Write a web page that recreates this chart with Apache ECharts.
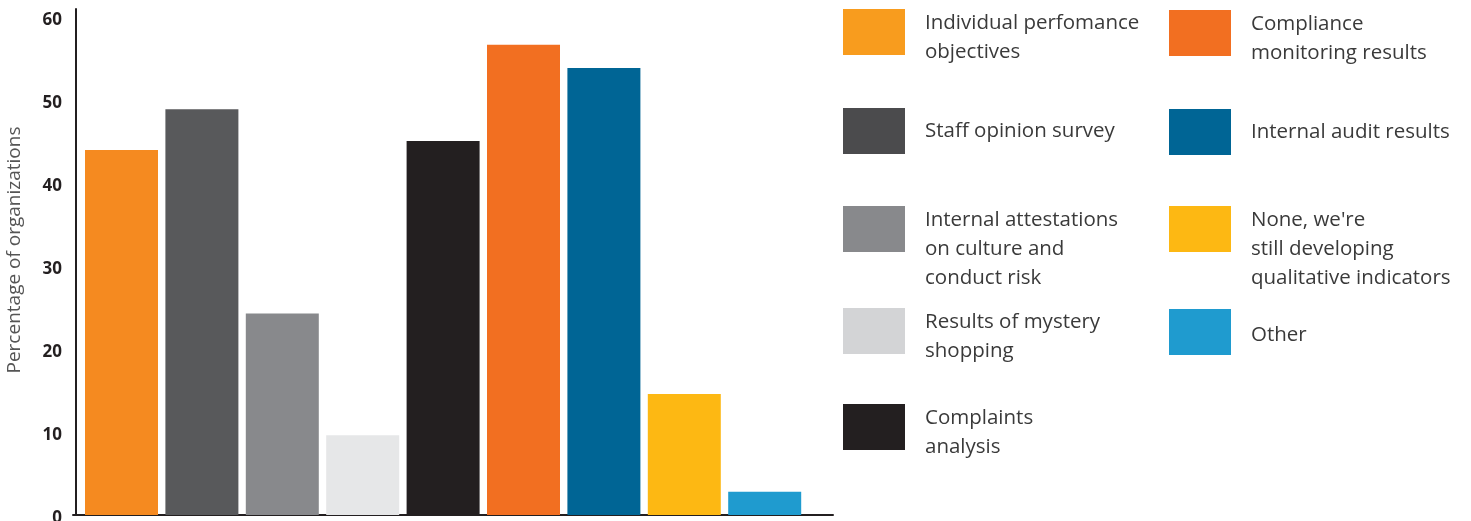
<!DOCTYPE html>
<html>
<head>
<meta charset="utf-8">
<script src="https://cdn.jsdelivr.net/npm/echarts@6/dist/echarts.min.js"></script>
<style>
html,body{margin:0;padding:0;background:#fff;}
#chart{width:1471px;height:521px;}
</style>
</head>
<body>
<div id="chart"></div>
<script>
// ---- data ----
const categories = [
  'Individual perfomance\nobjectives',
  'Staff opinion survey',
  'Internal attestations\non culture and\nconduct risk',
  'Results of mystery\nshopping',
  'Complaints\nanalysis',
  'Compliance\nmonitoring results',
  'Internal audit results',
  "None, we're\nstill developing\nqualitative indicators",
  'Other'
];
const values = [44.0, 48.9, 24.3, 9.6, 45.1, 56.7, 53.9, 14.6, 2.8];
const barColors = ['#F58A20', '#58595B', '#88898C', '#E6E7E8', '#231F20', '#F26F21', '#006595', '#FDB813', '#1F9BCF'];
const legendColors = ['#F89C1E', '#4B4B4D', '#88898C', '#D3D4D6', '#231F20', '#F26F21', '#006595', '#FDB813', '#1F9BCF'];
const yTicks = [0, 10, 20, 30, 40, 50, 60];
const yAxisTitle = 'Percentage of organizations';

// ---- layout (positions only) ----
const legendPos = [
  [843, 9], [843, 108], [843, 206], [843, 308], [843, 404],
  [1169, 10], [1169, 109], [1169, 206], [1169, 309]
];
const legendSpacer = [11, 0, 40, 11, 11, 11, 0, 40, 6];
const LH = 29;

const chart = echarts.init(document.getElementById('chart'));

const series = categories.map((name, i) => ({
  name: name,
  type: 'bar',
  xAxisIndex: 0,
  yAxisIndex: 0,
  barWidth: 73,
  barGap: '-100%',
  itemStyle: { color: barColors[i] },
  data: categories.map((c, j) => (j === i ? values[i] : null))
}));

const legends = categories.map((name, i) => {
  const lines = name.split('\n').length;
  const h = legendSpacer[i];
  const blockH = h + lines * LH;
  const mTop = legendPos[i][1];
  const top = blockH > 46 ? mTop + 23 - blockH / 2 : mTop;
  return {
    left: legendPos[i][0],
    top: top,
    padding: 0,
    itemWidth: 62,
    itemHeight: 46,
    icon: 'rect',
    selectedMode: false,
    data: [{ name: name, itemStyle: { color: legendColors[i] } }],
    formatter: n => (h > 0 ? '{s| }\n' : '') + n,
    textStyle: {
      fontFamily: 'Open Sans',
      fontSize: 20.5,
      lineHeight: LH,
      color: '#3a3a3a',
      padding: [0, 0, 0, 15],
      rich: { s: { height: h, lineHeight: h, fontSize: 1 } }
    }
  };
});

chart.setOption({
  animation: false,
  backgroundColor: '#fff',
  grid: [
    { left: 81.3, top: 9, width: 723.6, height: 506, containLabel: false, outerBoundsMode: 'none' },
    { left: 73, top: 9, width: 760, height: 506, containLabel: false, outerBoundsMode: 'none' }
  ],
  legend: legends,
  xAxis: [
    {
      type: 'category',
      gridIndex: 0,
      data: categories,
      axisLine: { show: false },
      axisTick: { show: false },
      axisLabel: { show: false },
      splitLine: { show: false }
    },
    {
      type: 'value',
      gridIndex: 1,
      min: 0,
      max: 1,
      axisLine: { show: true, onZero: false, lineStyle: { color: '#231F20', width: 2 } },
      axisTick: { show: false },
      axisLabel: { show: false },
      splitLine: { show: false }
    }
  ],
  yAxis: [
    {
      type: 'value',
      gridIndex: 0,
      min: yTicks[0],
      max: 61,
      interval: 10,
      offset: 5.3,
      name: yAxisTitle,
      nameLocation: 'middle',
      nameGap: 52,
      nameTextStyle: { fontFamily: 'Open Sans', fontSize: 19, color: '#555', padding: [0, 0, 0, 24] },
      axisLine: { show: true, onZero: false, lineStyle: { color: '#231F20', width: 2 } },
      axisTick: { show: false },
      splitLine: { show: false },
      axisLabel: {
        showMaxLabel: false,
        margin: 14,
        fontFamily: 'Noto Sans',
        fontWeight: 'bold',
        fontSize: 17,
        lineHeight: 20,
        color: '#231F20',
        formatter: v => (yTicks.indexOf(v) >= 0 ? '{s| }\n' + v : ''),
        rich: { s: { height: 6, lineHeight: 6, fontSize: 1 } }
      }
    },
    {
      type: 'value',
      gridIndex: 1,
      show: false,
      min: 0,
      max: 1
    }
  ],
  series: series
});
</script>
</body>
</html>
